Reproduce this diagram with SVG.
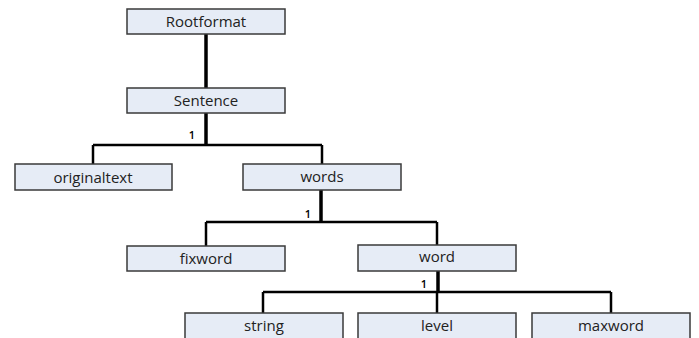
<svg xmlns="http://www.w3.org/2000/svg" width="699" height="338" viewBox="0 0 699 338">
<style>
.box{fill:#E6ECF6;stroke:#3a3a3a;stroke-width:1.5}
.lbl{font-family:"Open Sans","Noto Sans",sans-serif;font-size:15px;fill:#222;text-anchor:middle}
.card{font-family:"Open Sans","Noto Sans",sans-serif;font-size:11px;font-weight:600;fill:#000;text-anchor:middle}
.ln{stroke:#000;stroke-width:2.5;fill:none}
.trunk{stroke:#000;stroke-width:3.5;fill:none}
</style>
<rect width="699" height="338" fill="#fff"/>
<g id="connectors">
<line class="trunk" x1="206" y1="34" x2="206" y2="88"/>
<line class="trunk" x1="206" y1="113" x2="206" y2="145"/>
<line class="ln" x1="93" y1="145" x2="322" y2="145"/>
<line class="ln" x1="93" y1="145" x2="93" y2="164"/>
<line class="ln" x1="322" y1="145" x2="322" y2="164"/>
<text class="card" x="192" y="139">1</text>
<line class="trunk" x1="321" y1="190" x2="321" y2="222"/>
<line class="ln" x1="206" y1="222" x2="437" y2="222"/>
<line class="ln" x1="206" y1="222" x2="206" y2="246"/>
<line class="ln" x1="437" y1="222" x2="437" y2="245"/>
<text class="card" x="308" y="218">1</text>
<line class="trunk" x1="438" y1="271" x2="438" y2="292"/>
<line class="ln" x1="263" y1="292" x2="611" y2="292"/>
<line class="ln" x1="263" y1="292" x2="263" y2="313"/>
<line class="ln" x1="437" y1="292" x2="437" y2="313"/>
<line class="ln" x1="611" y1="292" x2="611" y2="313"/>
<text class="card" x="424" y="288">1</text>
</g>
<g id="rootformat"><rect class="box" x="127" y="9" width="158" height="25"/><text class="lbl" x="206" y="27">Rootformat</text></g>
<g id="sentence"><rect class="box" x="127" y="88" width="158" height="25"/><text class="lbl" x="206" y="106">Sentence</text></g>
<g id="originaltext"><rect class="box" x="15" y="164" width="157" height="26"/><text class="lbl" x="93" y="183">originaltext</text></g>
<g id="words"><rect class="box" x="243" y="164" width="158" height="26"/><text class="lbl" x="322" y="182">words</text></g>
<g id="fixword"><rect class="box" x="127" y="246" width="158" height="25"/><text class="lbl" x="206" y="264">fixword</text></g>
<g id="word"><rect class="box" x="358" y="245" width="158" height="26"/><text class="lbl" x="437" y="262">word</text></g>
<g id="string"><rect class="box" x="185" y="313" width="158" height="30"/><text class="lbl" x="264" y="331">string</text></g>
<g id="level"><rect class="box" x="358" y="313" width="158" height="30"/><text class="lbl" x="437" y="331">level</text></g>
<g id="maxword"><rect class="box" x="532" y="313" width="158" height="30"/><text class="lbl" x="611" y="331">maxword</text></g>
</svg>
